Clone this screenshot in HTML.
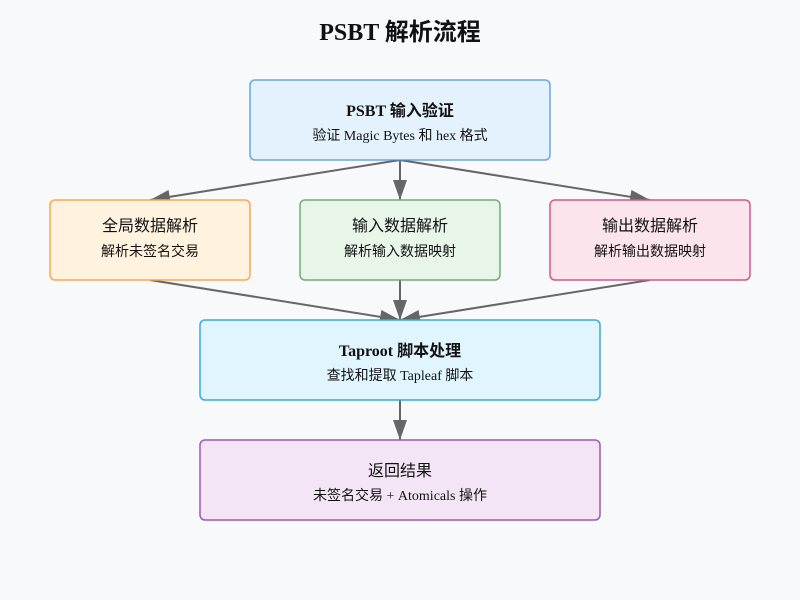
<!DOCTYPE html>
<html><head><meta charset="utf-8"><style>
html,body{margin:0;padding:0;background:#f8f9fa;}
svg{display:block;font-family:"Liberation Serif","Noto Sans CJK SC",serif;}
</style></head><body>
<svg width="800" height="600" viewBox="0 0 800 600" xmlns="http://www.w3.org/2000/svg">
<defs><marker id="a" markerWidth="10" markerHeight="10" refX="9" refY="5" orient="auto" markerUnits="userSpaceOnUse" viewBox="0 0 10 10"><path d="M0,0 L10,5 L0,10 z" fill="#666"/></marker>
<marker id="b" markerWidth="20" markerHeight="14" refX="20" refY="7" orient="auto" markerUnits="userSpaceOnUse" viewBox="0 0 20 14"><path d="M0,0 L20,7 L0,14 z" fill="#666"/></marker></defs>
<rect width="800" height="600" fill="#f8f9fa"/>
<text x="400" y="40" text-anchor="middle" font-size="24" font-weight="bold" fill="#111">PSBT 解析流程</text>
<g stroke="#666" stroke-width="2" fill="none">
<line x1="400" y1="160" x2="150" y2="200" marker-end="url(#b)"/>
<line x1="400" y1="160" x2="400" y2="200" marker-end="url(#b)"/>
<line x1="400" y1="160" x2="650" y2="200" marker-end="url(#b)"/>
<line x1="150" y1="280" x2="400" y2="320" marker-end="url(#b)"/>
<line x1="400" y1="280" x2="400" y2="320" marker-end="url(#b)"/>
<line x1="650" y1="280" x2="400" y2="320" marker-end="url(#b)"/>
<line x1="400" y1="400" x2="400" y2="440" marker-end="url(#b)"/>
</g>
<rect x="250" y="80" width="300" height="80" rx="5" fill="#e3f2fd" stroke="#4a90e2" stroke-opacity="0.8" stroke-width="1.5"/>
<rect x="50" y="200" width="200" height="80" rx="5" fill="#fff3e0" stroke="#ffa64d" stroke-width="1.5"/>
<rect x="300" y="200" width="200" height="80" rx="5" fill="#e8f5e9" stroke="#6fb074" stroke-width="1.5"/>
<rect x="550" y="200" width="200" height="80" rx="5" fill="#fce4ec" stroke="#d6558a" stroke-width="1.5"/>
<rect x="200" y="320" width="400" height="80" rx="5" fill="#e1f5fe" stroke="#3aa9dd" stroke-width="1.5"/>
<rect x="200" y="440" width="400" height="80" rx="5" fill="#f3e5f5" stroke="#a155b9" stroke-width="1.5"/>
<g text-anchor="middle" fill="#111">
<text x="400" y="116" font-size="16" font-weight="bold">PSBT 输入验证</text>
<text x="400" y="140" font-size="14">验证 Magic Bytes 和 hex 格式</text>
<text x="150" y="231" font-size="16">全局数据解析</text>
<text x="150" y="256" font-size="14">解析未签名交易</text>
<text x="400" y="231" font-size="16">输入数据解析</text>
<text x="400" y="256" font-size="14">解析输入数据映射</text>
<text x="650" y="231" font-size="16">输出数据解析</text>
<text x="650" y="256" font-size="14">解析输出数据映射</text>
<text x="400" y="356" font-size="16" font-weight="bold">Taproot 脚本处理</text>
<text x="400" y="380" font-size="14">查找和提取 Tapleaf 脚本</text>
<text x="400" y="476" font-size="16">返回结果</text>
<text x="400" y="500" font-size="14">未签名交易 + Atomicals 操作</text>
</g>
</svg>
</body></html>
